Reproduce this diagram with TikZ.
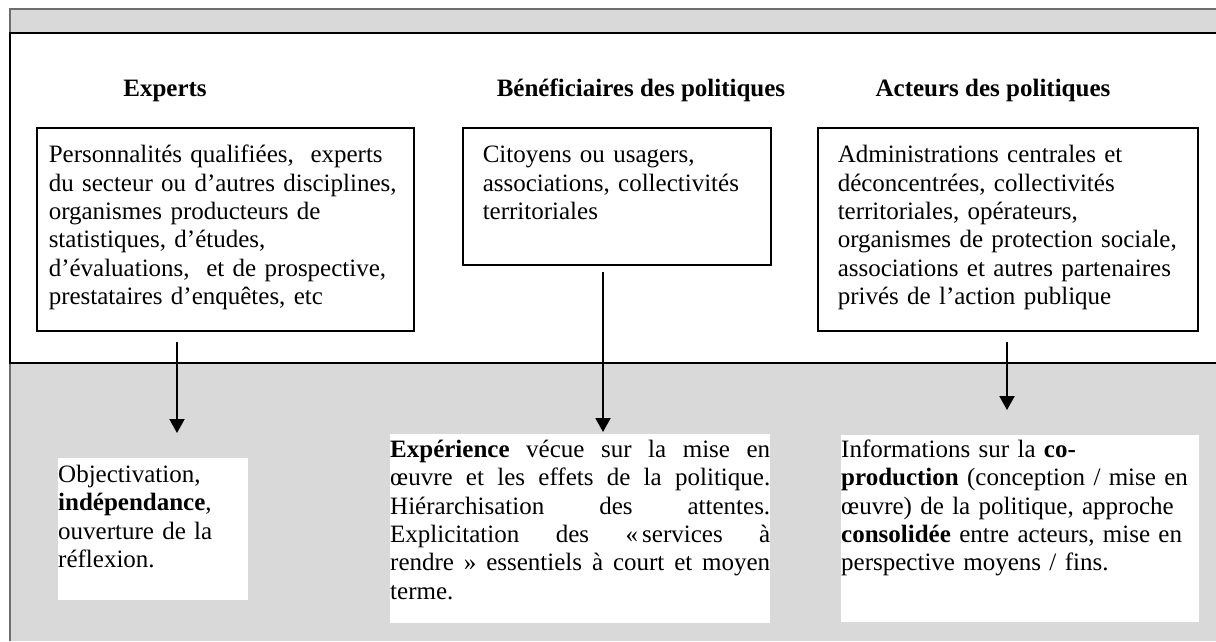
\documentclass[tikz,border=0pt]{standalone}
\usepackage{fontspec}
\setmainfont{Liberation Serif}
\usetikzlibrary{arrows.meta}
\definecolor{bandgray}{RGB}{217,217,217}
\definecolor{framegray}{RGB}{110,110,110}

\begin{document}
\begin{tikzpicture}[x=1pt, y=-1pt,
every node/.style = {font=\fontsize{25}{28.4}\selectfont, align=left},
title/.style = {font=\fontsize{25}{28.4}\selectfont\bfseries, anchor=base},
inbox/.style = {draw, line width=1.5pt, fill=white, anchor=north west,
inner ysep=14pt, inner xsep=20pt, text height=21pt},
outbox/.style = {fill=white, anchor=north west, inner xsep=0pt, text height=21pt},
arr/.style = {line width=2pt, -{Triangle[length=14pt,width=15pt]}}]
\useasboundingbox (0,0) rectangle (1216,641);
% frame
\fill [bandgray] (10,9) rectangle (1216,641);
\draw [framegray, line width=1.5pt] (1216,9) -- (10,9) -- (10,641);
\fill [white] (10,33) rectangle (1216,363);
\draw [line width=2pt] (1216,33) -- (10,33) -- (10,363) -- (1216,363);
% titles
\node [title] (texperts) at (165,96) {Experts};
\node [title] (tbenef) at (641,96) {Bénéficiaires des politiques};
\node [title] (tacteurs) at (993,96) {Acteurs des politiques};
% who
\node [inbox, inner xsep=12pt, text width=353pt, text depth=154pt] (experts) at (36,127)
{Personnalités qualifiées,~ experts\\ du secteur ou d'autres disciplines,\\
organismes producteurs de\\ statistiques, d'études,\\
d'évaluations,~ et de prospective,\\ prestataires d'enquêtes, etc};
\node [inbox, text width=268pt, text depth=88pt] (benef) at (462,127)
{Citoyens ou usagers,\\ associations, collectivités\\ territoriales};
\node [inbox, text width=340pt, text depth=154pt] (acteurs) at (817,127)
{Administrations centrales et\\ déconcentrées, collectivités\\
territoriales, opérateurs,\\ organismes de protection sociale,\\
associations et autres partenaires\\ privés de l'action publique};
% what they bring
\node [outbox, inner ysep=3pt, text width=190pt, text depth=115pt] (objectiv) at (58,458)
{Objectivation,\\ \textbf{indépendance},\\ ouverture de la\\ réflexion.};
\node [outbox, align=justify, inner ysep=2pt, text width=380pt, text depth=164pt] (experience) at (390,434)
{\textbf{Expérience} vécue sur la mise en\linebreak
œuvre et les effets de la politique.\linebreak
Hiérarchisation des attentes.\linebreak
Explicitation des «\,services à\linebreak
rendre~» essentiels à court et moyen\linebreak terme.};
\node [outbox, inner ysep=1pt, text width=358pt, text depth=164pt] (infos) at (841,435)
{Informations sur la \textbf{co-}\\ \textbf{production} (conception / mise en\\
œuvre) de la politique, approche\\ \textbf{consolidée} entre acteurs, mise en\\
perspective moyens / fins.};
% arrows
\draw [arr] ([shift={(141,10)}]experts.south west) -- ([shift={(119,-25)}]objectiv.north west);
\draw [arr] ([shift={(141,6)}]benef.south west) -- ([shift={(213,-2)}]experience.north west);
\draw [arr] ([shift={(190,10)}]acteurs.south west) -- ([shift={(166,-25)}]infos.north west);
\end{tikzpicture}
\end{document}
